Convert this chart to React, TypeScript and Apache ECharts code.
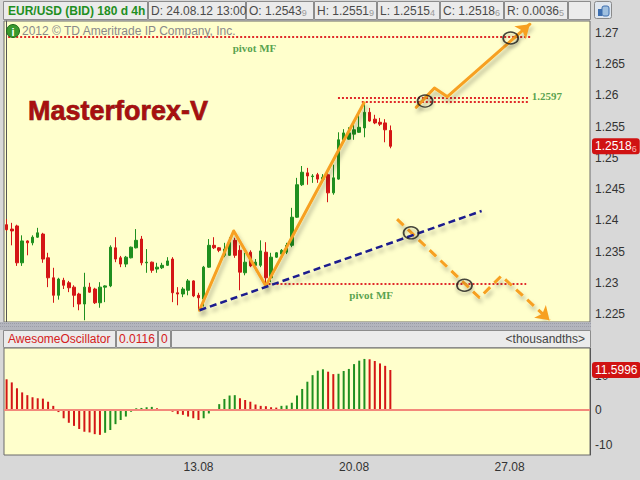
import { useEffect, useRef } from "react";
import * as echarts from "echarts";

// ---- quote header ----
const symbolTitle = "EUR/USD (BID) 180 d 4h";
const quoteLabels = ["D:", "O:", "H:", "L:", "C:", "R:"];
const quoteValues = ["24.08.12 13:00", "1.25439", "1.25519", "1.25154", "1.25186", "0.00365"];
const copyrightText = "2012 © TD Ameritrade IP Company, Inc.";
const brandText = "Masterforex-V";

// ---- time slots (4h bars, weekends skipped) ----
const firstSlot = "02.08 21:00";
const tradingDays = [
  "03.08", "06.08", "07.08", "08.08", "09.08", "10.08", "13.08", "14.08", "15.08", "16.08",
  "17.08", "20.08", "21.08", "22.08", "23.08", "24.08", "27.08", "28.08", "29.08",
];
const sessionHours = ["01:00", "05:00", "09:00", "13:00", "17:00", "21:00"];
const slotCount = 113;
const dateTicks = ["13.08", "20.08", "27.08"];

// ---- EUR/USD 4h bars: [open, close, low, high] ----
const candles: number[][] = [
  [1.2393, 1.2385, 1.2383, 1.2402],
  [1.2386, 1.2383, 1.236, 1.2396],
  [1.2391, 1.2332, 1.2327, 1.2393],
  [1.2332, 1.2367, 1.2327, 1.2376],
  [1.2367, 1.2364, 1.2344, 1.2368],
  [1.2364, 1.2373, 1.236, 1.2376],
  [1.2373, 1.238, 1.2372, 1.2388],
  [1.2378, 1.2338, 1.2332, 1.238],
  [1.234, 1.2308, 1.2293, 1.2348],
  [1.2308, 1.228, 1.2268, 1.2324],
  [1.228, 1.2306, 1.2273, 1.2308],
  [1.2304, 1.2296, 1.229, 1.2308],
  [1.23, 1.2292, 1.2285, 1.2303],
  [1.2293, 1.228, 1.2261, 1.2296],
  [1.2282, 1.2266, 1.2256, 1.2284],
  [1.2266, 1.2293, 1.224, 1.2316],
  [1.2293, 1.2285, 1.2284, 1.23],
  [1.229, 1.2268, 1.2266, 1.2292],
  [1.2268, 1.2293, 1.226, 1.2301],
  [1.2293, 1.2295, 1.2269, 1.2296],
  [1.2295, 1.2357, 1.2293, 1.236],
  [1.2356, 1.2338, 1.2333, 1.2373],
  [1.234, 1.233, 1.2325, 1.2343],
  [1.233, 1.2341, 1.2325, 1.2343],
  [1.234, 1.2357, 1.2339, 1.2358],
  [1.2356, 1.2368, 1.2355, 1.2386],
  [1.237, 1.2332, 1.2328, 1.2375],
  [1.2332, 1.2333, 1.2316, 1.2354],
  [1.2333, 1.232, 1.2316, 1.2334],
  [1.2322, 1.2325, 1.2316, 1.2332],
  [1.2324, 1.2328, 1.2322, 1.2332],
  [1.2328, 1.2335, 1.2327, 1.2341],
  [1.2338, 1.2284, 1.2269, 1.2341],
  [1.2284, 1.2282, 1.2264, 1.2293],
  [1.2282, 1.229, 1.2277, 1.2293],
  [1.2288, 1.2303, 1.228, 1.2306],
  [1.2303, 1.2279, 1.2277, 1.2304],
  [1.228, 1.2276, 1.2256, 1.2284],
  [1.2274, 1.2325, 1.2262, 1.2327],
  [1.2325, 1.236, 1.2324, 1.237],
  [1.236, 1.2356, 1.2354, 1.2373],
  [1.2356, 1.2352, 1.2349, 1.2357],
  [1.2344, 1.2354, 1.2341, 1.2364],
  [1.2344, 1.2365, 1.2343, 1.2373],
  [1.2368, 1.2344, 1.234, 1.2372],
  [1.2352, 1.2317, 1.2288, 1.236],
  [1.2316, 1.2333, 1.2312, 1.2348],
  [1.2349, 1.2327, 1.2325, 1.2352],
  [1.2328, 1.2333, 1.2324, 1.2338],
  [1.2328, 1.2351, 1.2325, 1.2368],
  [1.2349, 1.2308, 1.2295, 1.2365],
  [1.2308, 1.2341, 1.2301, 1.2348],
  [1.2341, 1.2348, 1.234, 1.2349],
  [1.2346, 1.2352, 1.2343, 1.2354],
  [1.2349, 1.236, 1.2346, 1.2364],
  [1.236, 1.2405, 1.2357, 1.242],
  [1.2405, 1.2457, 1.2404, 1.2468],
  [1.2457, 1.2477, 1.2455, 1.2487],
  [1.2476, 1.2471, 1.2457, 1.2484],
  [1.247, 1.2471, 1.246, 1.2474],
  [1.2473, 1.2466, 1.246, 1.2476],
  [1.2466, 1.2469, 1.2461, 1.2474],
  [1.2473, 1.2444, 1.2429, 1.2476],
  [1.2444, 1.2468, 1.2441, 1.2489],
  [1.2466, 1.2529, 1.2465, 1.2541],
  [1.2529, 1.254, 1.2525, 1.2546],
  [1.253, 1.254, 1.2529, 1.2549],
  [1.2538, 1.2545, 1.2529, 1.2557],
  [1.2541, 1.2549, 1.254, 1.2573],
  [1.2548, 1.2573, 1.2533, 1.2588],
  [1.2573, 1.2559, 1.2558, 1.258],
  [1.2562, 1.2556, 1.2554, 1.2569],
  [1.2557, 1.2554, 1.2551, 1.2564],
  [1.2556, 1.2545, 1.2525, 1.2562],
  [1.25439, 1.25186, 1.25154, 1.25519],
];

// ---- Awesome Oscillator, thousandths ----
const aoTitle = "AwesomeOscillator";
const aoHeaderValues = ["0.0116", "0"];
const aoUnits = "<thousandths>";
const aoValues = [
  8.9, 8.0, 6.3, 5.1, 4.3, 3.7, 3.4, 3.3, 2.4, 1.2,
  -0.6, -2.4, -3.7, -4.6, -5.5, -6.3, -6.5, -7.0, -7.2, -6.6,
  -5.8, -4.1, -2.9, -1.9, -0.5, 0.5, 0.6, 0.8, 0.9, 0.5,
  0.15, -0.1, -0.5, -1.2, -1.4, -1.9, -2.4, -2.9, -2.4, -1.0,
  0.1, 1.7, 3.2, 4.2, 4.3, 3.4, 2.9, 2.4, 1.6, 1.2,
  1.1, 0.8, 0.7, 1.2, 1.3, 2.1, 4.2, 6.1, 8.2, 10.1,
  11.4, 11.8, 11.1, 10.4, 10.5, 11.3, 11.9, 13.3, 14.3, 14.8,
  14.7, 14.2, 13.5, 12.8, 11.5996,
];

// ---- hand-drawn analysis: [bar index, price] ----
const zigzagPath = [[37.2, 1.2256], [43.8, 1.2383], [50.0, 1.2295], [68.9, 1.2588]];
const bullishPath = [[79.0, 1.2581], [82.5, 1.2612], [85.0, 1.2598], [100.9, 1.2714]];
const bearishPath = [[75.3, 1.2402], [91.2, 1.2276], [95.4, 1.2311], [104.7, 1.224]];
const trendLine = [[37.2, 1.2256], [91.6, 1.2415]];
const targetMarks = [[80.7, 1.2591], [97.2, 1.2692], [78.0, 1.238], [88.3, 1.2296]];
const levelPrices = [1.2694, 1.2597, 1.259, 1.2298];
const levelStarts = [0.3, 63.9, 68.5, 50.5];
const levelEnds = [101.2, 100.8, 100.8, 100.2];
const levelLabelAnchors = [[47.8, 1.2676], [104.2, 1.2599], [70.3, 1.228]];
const levelLabelTexts = ["pivot MF", "1.2597", "pivot MF"];

const UP = "#1f8f1f";
const DOWN = "#d41616";
const ORANGE = "#f7a020";
const NAVY = "#1c1c8e";
const LEVEL_RED = "#e02a2a";
const LEVEL_GREEN = "#2c8a2c";
const FONT = '"Liberation Sans", Arial, sans-serif';
const SERIF = '"Liberation Serif", "Times New Roman", serif';

const categories = [firstSlot, ...tradingDays.flatMap((d) => sessionHours.map((h) => `${d} ${h}`))].slice(0, slotCount);

const lineShadow = { shadowColor: "rgba(0,0,0,0.28)", shadowBlur: 4, shadowOffsetX: 2, shadowOffsetY: 4 };

function smallTail(s: string) {
  return { main: s.slice(0, -1), tail: s.slice(-1) };
}

function headerGraphics() {
  const els: any[] = [];
  // top quote strip
  els.push({ type: "rect", shape: { x: 0, y: 0, width: 591, height: 20 }, style: { fill: "#d8d8d8" }, z: 100 });
  const cells = [[3, 144], [148, 97], [246, 67], [314, 62], [377, 62], [440, 63], [504, 63], [568, 22]];
  cells.forEach(([x, w]) => {
    els.push({
      type: "rect",
      shape: { x: x + 0.5, y: 1.5, width: w, height: 18 },
      style: { fill: "#ebebeb", stroke: "#8c8c8c", lineWidth: 1 },
      z: 101,
    });
  });
  els.push({
    type: "text", x: 8, y: 11, z: 102,
    style: { text: symbolTitle, fill: UP, font: `bold 12px ${FONT}`, verticalAlign: "middle", align: "left" },
  });
  quoteLabels.forEach((lab, i) => {
    const [x] = cells[i + 1];
    const v = quoteValues[i];
    const text = i === 0 ? `{a|${lab} ${v}}` : `{a|${lab} ${smallTail(v).main}}{b|${smallTail(v).tail}}`;
    els.push({
      type: "text", x: x + 3, y: 11, z: 102,
      style: {
        text, verticalAlign: "middle", align: "left",
        rich: {
          a: { fill: "#4a4a4a", fontSize: 12, fontFamily: FONT },
          b: { fill: "#9a9a9a", fontSize: 9, fontFamily: FONT, padding: [3, 0, 0, 0] },
        },
      },
    });
  });
  // small toolbar button
  els.push({ type: "rect", shape: { x: 594.5, y: 1.5, width: 17, height: 17, r: 2 }, style: { fill: "#dfe6ee", stroke: "#8a8a8a" }, z: 100 });
  els.push({ type: "rect", shape: { x: 598, y: 9, width: 4, height: 7 }, style: { fill: "#3d6fb0" }, z: 101 });
  els.push({ type: "rect", shape: { x: 602, y: 6, width: 7, height: 10, r: 2 }, style: { fill: "#9fc0e0", stroke: "#3d6fb0" }, z: 101 });

  // info badge + copyright
  els.push({ type: "circle", shape: { cx: 13, cy: 31, r: 6.5 }, style: { fill: "#3a9a2e", stroke: "#1f6b1a" }, z: 60 });
  els.push({ type: "text", x: 13, y: 31.5, z: 61, style: { text: "i", fill: "#fff", font: `bold 11px ${FONT}`, align: "center", verticalAlign: "middle" } });
  els.push({ type: "text", x: 22, y: 31, z: 60, style: { text: copyrightText, fill: "#8a8a8a", font: `12px ${FONT}`, verticalAlign: "middle", align: "left" } });

  // brand caption
  els.push({
    type: "text", x: 28, y: 111, z: 60,
    style: {
      text: brandText, fill: "#a80f0f", font: `bold 27px ${FONT}`, verticalAlign: "middle", align: "left",
      stroke: "#5e0505", lineWidth: 0.6,
      shadowColor: "rgba(0,0,0,0.45)", shadowBlur: 3, shadowOffsetX: 2, shadowOffsetY: 3,
    },
  });

  // pane separator
  els.push({ type: "rect", shape: { x: 0, y: 322, width: 591, height: 8 }, style: { fill: "#b3b5bd" }, z: 90 });
  els.push({ type: "line", shape: { x1: 0, y1: 323.5, x2: 591, y2: 323.5 }, style: { stroke: "#9a9ca6", lineDash: [1, 1] }, z: 91 });
  els.push({ type: "line", shape: { x1: 0, y1: 326.5, x2: 591, y2: 326.5 }, style: { stroke: "#9a9ca6", lineDash: [1, 1] }, z: 91 });

  // oscillator header strip
  els.push({ type: "rect", shape: { x: 0, y: 330, width: 591, height: 18 }, style: { fill: "#d8d8d8" }, z: 90 });
  const aoCells = [[3, 112], [116, 41], [158, 12], [171, 419]];
  aoCells.forEach(([x, w]) => {
    els.push({ type: "rect", shape: { x: x + 0.5, y: 330.5, width: w, height: 17 }, style: { fill: "#ebebeb", stroke: "#8c8c8c" }, z: 91 });
  });
  els.push({ type: "text", x: 8, y: 339, z: 92, style: { text: aoTitle, fill: "#d42020", font: `12px ${FONT}`, verticalAlign: "middle", align: "left" } });
  els.push({ type: "text", x: 119, y: 339, z: 92, style: { text: aoHeaderValues[0], fill: "#d42020", font: `12px ${FONT}`, verticalAlign: "middle", align: "left" } });
  els.push({ type: "text", x: 161, y: 339, z: 92, style: { text: aoHeaderValues[1], fill: "#d42020", font: `12px ${FONT}`, verticalAlign: "middle", align: "left" } });
  els.push({ type: "text", x: 585, y: 339, z: 92, style: { text: aoUnits, fill: "#444", font: `12px ${FONT}`, verticalAlign: "middle", align: "right" } });
  return els;
}

function buildOption(): any {
  const lastClose = candles[candles.length - 1][1];
  const lastCloseTxt = smallTail(lastClose.toFixed(5));
  const lastAO = aoValues[aoValues.length - 1];

  const levelLines = levelPrices.map((p, i) => ({
    coords: [[levelStarts[i], p], [levelEnds[i], p]],
  }));

  const orangeSolid = { color: ORANGE, width: 3, cap: "round", join: "round", ...lineShadow };
  const orangeDashed = { color: ORANGE, width: 3, type: [9, 6], cap: "butt", ...lineShadow };

  const pathSeries = (data: number[][], style: any) => ({
    type: "line",
    xAxisIndex: 1,
    yAxisIndex: 0,
    data,
    showSymbol: false,
    symbol: "none",
    lineStyle: style,
    silent: true,
    z: 5,
  });
  // arrowhead at the end of a projected path, pointing along its last leg
  const arrowSeries = (data: number[][]) => ({
    type: "lines",
    coordinateSystem: "cartesian2d",
    xAxisIndex: 1,
    yAxisIndex: 0,
    symbol: ["none", "arrow"],
    symbolSize: 13,
    lineStyle: { color: ORANGE, width: 0, opacity: 1, curveness: 0 },
    itemStyle: { color: ORANGE },
    data: [{ coords: data.slice(-2) }],
    silent: true,
    z: 6,
  });

  // red value tags on the right-hand scales, drawn as line-less mark lines
  const valueTag = (value: number, formatter: () => string, rich?: any) => ({
    yAxis: value,
    lineStyle: { color: "rgba(0,0,0,0)", width: 0 },
    label: {
      show: true, position: "end", distance: 2, verticalAlign: "middle",
      formatter, color: "#fff", fontSize: 12, fontFamily: FONT, lineHeight: 14,
      backgroundColor: "#d01212", borderRadius: 3, padding: [1, 3, 1, 3],
      ...(rich ? { rich } : {}),
    },
  });

  return {
    animation: false,
    backgroundColor: "#d8d8d8",
    textStyle: { fontFamily: FONT },
    grid: [
      { left: 4, right: 50, top: 21, height: 301, show: true, backgroundColor: "#ffffcc", borderColor: "#6a6a6a", borderWidth: 1 },
      { left: 4, right: 50, top: 348, height: 107, show: true, backgroundColor: "#ffffcc", borderColor: "#6a6a6a", borderWidth: 1 },
    ],
    xAxis: [
      {
        type: "category", gridIndex: 0, data: categories, boundaryGap: true,
        axisLine: { show: false }, axisTick: { show: false }, axisLabel: { show: false }, splitLine: { show: false },
      },
      { type: "value", gridIndex: 0, min: -0.5, max: slotCount - 0.5, show: false },
      {
        type: "category", gridIndex: 1, data: categories, boundaryGap: true,
        axisLine: { show: false }, axisTick: { show: false }, splitLine: { show: false },
        axisLabel: {
          interval: (_i: number, v: string) => dateTicks.includes(v.slice(0, 5)) && v.endsWith(sessionHours[0]),
          formatter: (v: string) => v.slice(0, 5),
          color: "#333", fontSize: 12, margin: 6, fontFamily: FONT,
        },
      },
    ],
    yAxis: [
      {
        type: "value", gridIndex: 0, position: "right", min: 1.22372, max: 1.27192, splitNumber: 10,
        axisLine: { show: true, lineStyle: { color: "#555" } }, axisTick: { show: false }, splitLine: { show: false },
        axisLabel: { showMinLabel: false, showMaxLabel: false, color: "#333", fontSize: 12, margin: 5, fontFamily: FONT },
      },
      {
        type: "value", gridIndex: 1, position: "right", min: -13.04, max: 17.97, splitNumber: 3,
        axisLine: { show: true, lineStyle: { color: "#555" } }, axisTick: { show: false }, splitLine: { show: false },
        axisLabel: { showMinLabel: false, showMaxLabel: false, color: "#333", fontSize: 12, margin: 5, fontFamily: FONT },
      },
    ],
    series: [
      {
        type: "candlestick",
        xAxisIndex: 0,
        yAxisIndex: 0,
        data: candles,
        barWidth: 3,
        itemStyle: { color: UP, color0: DOWN, borderColor: UP, borderColor0: DOWN, borderWidth: 1 },
        markLine: {
          silent: true,
          symbol: "none",
          precision: 5,
          data: [
            valueTag(lastClose, () => `{m|${lastCloseTxt.main}}{s|${lastCloseTxt.tail}}`, {
              m: { color: "#fff", fontSize: 12, fontFamily: FONT, lineHeight: 14 },
              s: { color: "#ffb4b4", fontSize: 9, fontFamily: FONT, lineHeight: 14, verticalAlign: "bottom" },
            }),
          ],
        },
        z: 3,
      },
      {
        type: "bar",
        xAxisIndex: 2,
        yAxisIndex: 1,
        data: aoValues,
        barWidth: 2,
        itemStyle: {
          color: (p: any) => (p.dataIndex > 0 && aoValues[p.dataIndex] > aoValues[p.dataIndex - 1] ? UP : DOWN),
        },
        markLine: {
          silent: true,
          symbol: "none",
          precision: 4,
          data: [
            { yAxis: 0, lineStyle: { color: "#f3897b", width: 2, type: "solid" }, label: { show: false } },
            valueTag(lastAO, () => lastAO.toFixed(4)),
          ],
        },
        z: 3,
      },
      {
        type: "lines",
        coordinateSystem: "cartesian2d",
        xAxisIndex: 1,
        yAxisIndex: 0,
        data: levelLines,
        lineStyle: { color: LEVEL_RED, width: 2, type: [2, 2], opacity: 1, curveness: 0 },
        silent: true,
        z: 4,
      },
      pathSeries(zigzagPath, orangeSolid),
      pathSeries(bullishPath, orangeSolid),
      arrowSeries(bullishPath),
      pathSeries(bearishPath, orangeDashed),
      arrowSeries(bearishPath),
      pathSeries(trendLine, { color: NAVY, width: 2.5, type: [7, 4], ...lineShadow }),
      {
        type: "scatter",
        xAxisIndex: 1,
        yAxisIndex: 0,
        data: targetMarks,
        symbol: "circle",
        symbolSize: [15, 12],
        itemStyle: { color: "rgba(0,0,0,0)", borderColor: "#161616", borderWidth: 1.6, shadowColor: "rgba(0,0,0,0.3)", shadowBlur: 3, shadowOffsetY: 3 },
        silent: true,
        z: 7,
      },
      {
        type: "scatter",
        xAxisIndex: 1,
        yAxisIndex: 0,
        data: levelLabelAnchors.map((c, i) => ({ value: c, name: levelLabelTexts[i] })),
        symbolSize: 1,
        itemStyle: { color: "rgba(0,0,0,0)" },
        label: {
          show: true,
          position: "inside",
          formatter: "{b}",
          color: LEVEL_GREEN,
          fontFamily: SERIF,
          fontWeight: "bold",
          fontSize: 11,
        },
        silent: true,
        z: 7,
      },
    ],
    graphic: headerGraphics(),
  };
}

export default function App() {
  const ref = useRef<HTMLDivElement>(null);
  useEffect(() => {
    const chart = echarts.init(ref.current!, null, { renderer: "svg" });
    chart.setOption(buildOption());
    return () => chart.dispose();
  }, []);
  return <div ref={ref} style={{ position: "absolute", left: 0, top: 0, width: 640, height: 480 }} />;
}
